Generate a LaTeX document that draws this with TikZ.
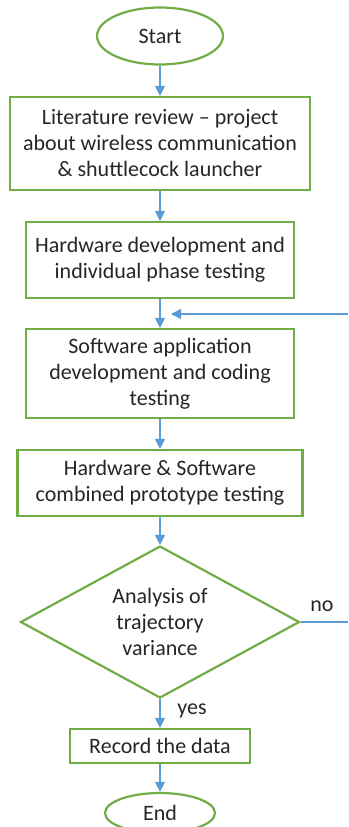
\documentclass[tikz,border=0pt]{standalone}
\usepackage{fontspec}
\setmainfont{Carlito}
\usetikzlibrary{shapes.geometric,arrows.meta}
\definecolor{boxgreen}{HTML}{70AD47}
\definecolor{flowblue}{HTML}{5B9BD5}
\definecolor{textgray}{HTML}{262626}
\begin{document}
\begin{tikzpicture}[x=1pt,y=1pt,
  every node/.style = {text = textgray, font = \fontsize{22}{26}\selectfont, align = center, inner sep = 0pt},
  terminal/.style = {ellipse, draw = boxgreen, line width = 2.2pt},
  process/.style = {rectangle, draw = boxgreen, line width = 2.2pt},
  decision/.style = {diamond, draw = boxgreen, line width = 2.2pt, aspect = 1.84},
  flow/.style = {draw = flowblue, line width = 1.2pt, -{Triangle[width=10pt,length=10pt]}},
  plainflow/.style = {draw = flowblue, line width = 1.2pt}]
\useasboundingbox (0,0) rectangle (348,-827);
\fill[white] (0,0) rectangle (348,-827);
\pgfmathsetmacro\cx{160};
\node[terminal, minimum width = 126, minimum height = 57] (start) at (\cx,-36) {Start};
\node[process, minimum width = 300, minimum height = 93] (lit) at (\cx,-143.5) {Literature review -- project\\about wireless communication\\\& shuttlecock launcher};
\node[process, minimum width = 268, minimum height = 76] (hw) at (\cx,-260) {Hardware development and\\individual phase testing};
\node[process, minimum width = 268, minimum height = 89] (sw) at (\cx,-373.5) {Software application\\development and coding\\testing};
\node[process, minimum width = 285, minimum height = 66] (comb) at (\cx,-483) {Hardware \& Software\\combined prototype testing};
\node[decision, minimum width = 279, minimum height = 152] (ana) at (\cx,-622) {Analysis of\\trajectory\\variance};
\node[process, minimum width = 180, minimum height = 34] (rec) at (\cx,-746) {Record the data};
\node[terminal, minimum width = 110, minimum height = 40] (end) at (\cx,-813) {End};
\foreach \a/\b in {start/lit, lit/hw, hw/sw, sw/comb, comb/ana, ana/rec, rec/end}
  \draw[flow] (\a) -- (\b);
\coordinate (loopin) at (348,-314);
\coordinate (looptip) at (171,-314);
\draw[flow] (loopin) -- (looptip);
\coordinate (noout) at (348,-622);
\draw[plainflow] (ana.east) -- (noout);
\node (no) at (322,-606) {no};
\node (yes) at (192,-711) {yes};
\end{tikzpicture}
\end{document}
